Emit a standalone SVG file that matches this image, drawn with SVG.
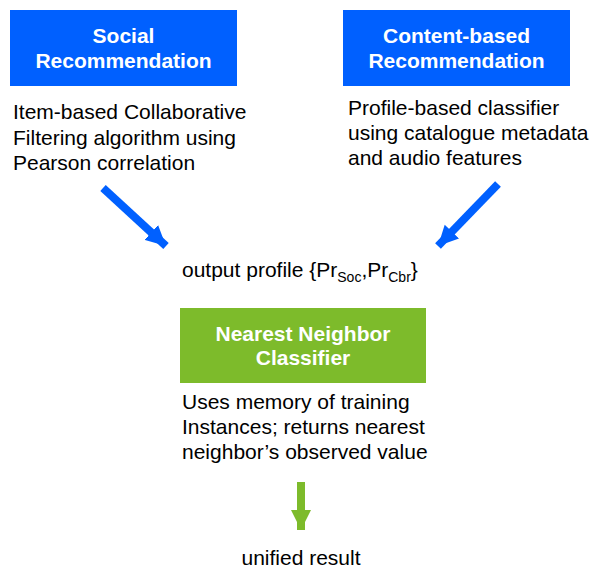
<svg xmlns="http://www.w3.org/2000/svg" width="593" height="570" viewBox="0 0 593 570">
<style>
.box-blue{fill:#0060FF}
.box-green{fill:#7DBB2B}
.title{font-family:"Liberation Sans",Arial,sans-serif;font-size:21px;font-weight:bold;fill:#FFFFFF;text-anchor:middle}
.body{font-family:"Liberation Sans",Arial,sans-serif;font-size:21px;fill:#000000}
.sub{font-size:14px}
</style>
<defs>
<marker id="ahb" viewBox="0 0 10 10" refX="10" refY="5" markerWidth="2.5" markerHeight="2.6" orient="auto" markerUnits="strokeWidth">
<path d="M0,0 L10,5 L0,10 z" fill="#0060FF"/>
</marker>
<marker id="ahg" viewBox="0 0 10 10" refX="10" refY="5" markerWidth="2.5" markerHeight="2.6" orient="auto" markerUnits="strokeWidth">
<path d="M0,0 L10,5 L0,10 z" fill="#7DBB2B"/>
</marker>
</defs>
<g id="social">
<rect class="box-blue" x="10" y="10" width="227" height="76"/>
<text class="title" x="123.5" y="43">Social</text>
<text class="title" x="123.5" y="68">Recommendation</text>
<text class="body" x="13" y="119">Item-based Collaborative</text>
<text class="body" x="13" y="145">Filtering algorithm using</text>
<text class="body" x="13" y="170">Pearson correlation</text>
</g>
<g id="content">
<rect class="box-blue" x="343" y="10" width="227" height="76"/>
<text class="title" x="456.5" y="43">Content-based</text>
<text class="title" x="456.5" y="68">Recommendation</text>
<text class="body" x="348" y="115">Profile-based classifier</text>
<text class="body" x="348" y="140">using catalogue metadata</text>
<text class="body" x="348" y="165">and audio features</text>
</g>
<g id="output-profile">
<text class="body" x="182" y="277">output profile {Pr<tspan class="sub" dy="5">Soc</tspan><tspan dy="-5">,Pr</tspan><tspan class="sub" dy="5">Cbr</tspan><tspan dy="-5">}</tspan></text>
</g>
<g id="nn">
<rect class="box-green" x="180" y="308" width="246" height="75"/>
<text class="title" x="303" y="341">Nearest Neighbor</text>
<text class="title" x="303" y="365">Classifier</text>
<text class="body" x="182" y="409">Uses memory of training</text>
<text class="body" x="182" y="434">Instances; returns nearest</text>
<text class="body" x="182" y="459">neighbor’s observed value</text>
</g>
<g id="result">
<text class="body" x="301" y="565" text-anchor="middle">unified result</text>
</g>
<g id="connectors">
<line x1="103" y1="188" x2="166" y2="246" stroke="#0060FF" stroke-width="8" marker-end="url(#ahb)"/>
<line x1="498" y1="184" x2="438" y2="246" stroke="#0060FF" stroke-width="8" marker-end="url(#ahb)"/>
<line x1="301" y1="482" x2="301" y2="530" stroke="#7DBB2B" stroke-width="8" marker-end="url(#ahg)"/>
</g>
</svg>
